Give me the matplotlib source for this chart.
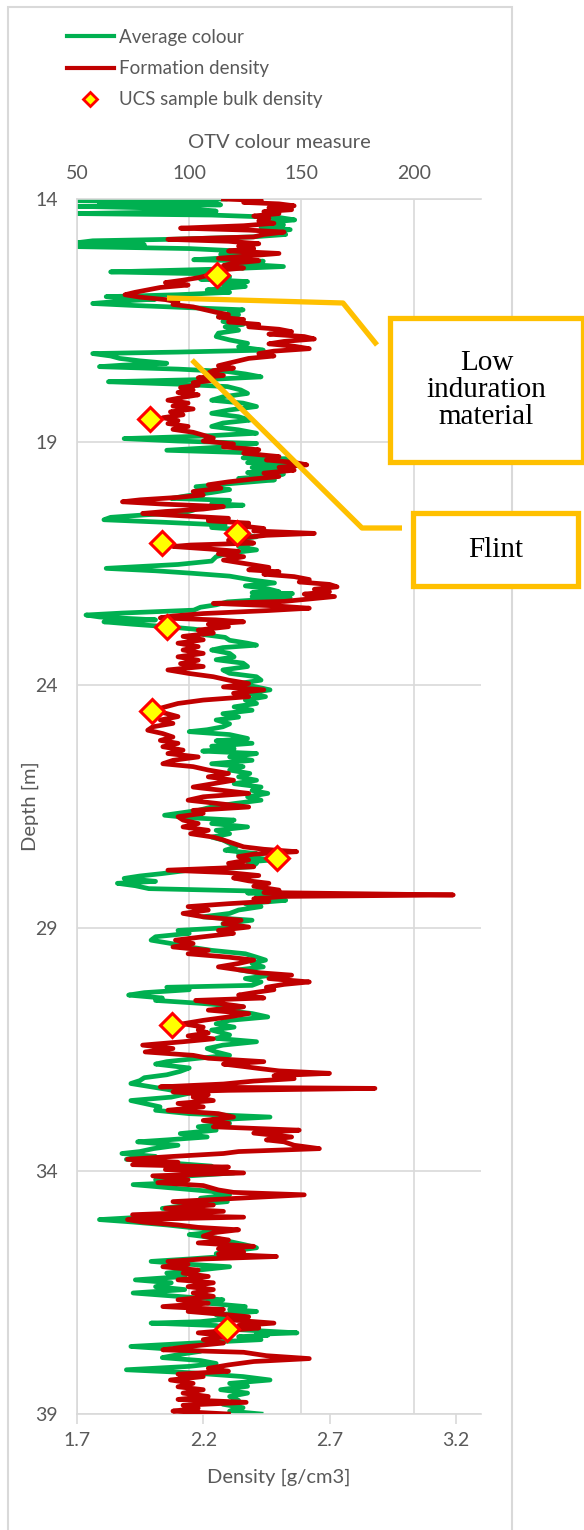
import matplotlib
matplotlib.use("Agg")
import matplotlib.pyplot as plt
from matplotlib.lines import Line2D
from matplotlib.patches import Rectangle

# OTV average colour log (depth m, colour measure)
colour_depth = [
    14.00, 14.03, 14.06, 14.09, 14.12, 14.15, 14.20, 14.25, 14.30, 14.33, 14.38, 14.43, 14.48, 14.53,
    14.58, 14.63, 14.68, 14.73, 14.78, 14.83, 14.86, 14.90, 14.94, 14.98, 15.02, 15.06, 15.10, 15.14,
    15.19, 15.25, 15.28, 15.33, 15.39, 15.44, 15.50, 15.54, 15.60, 15.65, 15.70, 15.75, 15.80, 15.87,
    15.92, 15.97, 16.01, 16.06, 16.10, 16.15, 16.19, 16.22, 16.28, 16.33, 16.38, 16.42, 16.47, 16.52,
    16.58, 16.63, 16.70, 16.76, 16.83, 16.90, 16.97, 17.04, 17.11, 17.15, 17.18, 17.23, 17.28, 17.33,
    17.38, 17.42, 17.45, 17.50, 17.55, 17.60, 17.66, 17.71, 17.76, 17.81, 17.86, 17.93, 18.00, 18.07,
    18.14, 18.20, 18.27, 18.34, 18.41, 18.48, 18.55, 18.61, 18.68, 18.75, 18.82, 18.88, 18.93, 18.98,
    19.03, 19.10, 19.17, 19.22, 19.30, 19.325, 19.35, 19.375, 19.40, 19.425, 19.45, 19.475, 19.50,
    19.525, 19.55, 19.575, 19.60, 19.63, 19.66, 19.69, 19.72, 19.75, 19.78,
    19.85, 19.92, 19.98, 20.04, 20.10, 20.16, 20.20, 20.27, 20.30, 20.35, 20.40, 20.45, 20.50, 20.55,
    20.60, 20.65, 20.71, 20.76, 20.81, 20.88, 20.95, 21.02, 21.08, 21.15, 21.22, 21.29, 21.36, 21.45,
    21.52, 21.57, 21.60, 21.65, 21.70, 21.76, 21.84, 21.90, 21.96, 22.02, 22.08, 22.10, 22.12, 22.14,
    22.16, 22.18, 22.20, 22.22,
    22.25, 22.29, 22.35, 22.40, 22.46, 22.52, 22.56, 22.60, 22.66, 22.70, 22.75, 22.80, 22.85, 22.90,
    22.96, 23.02, 23.08, 23.14, 23.18, 23.23, 23.28, 23.35, 23.42, 23.48, 23.55, 23.62, 23.69, 23.76,
    23.83, 23.90, 23.97, 24.04, 24.10, 24.17, 24.24, 24.31, 24.38, 24.45, 24.52, 24.59, 24.66, 24.72,
    24.80, 24.86, 24.92, 24.96, 25.02, 25.10, 25.15, 25.20, 25.26, 25.31, 25.36, 25.41, 25.48, 25.55,
    25.62, 25.68, 25.75, 25.82, 25.89, 25.96, 26.03, 26.10, 26.17, 26.23, 26.30, 26.37, 26.44, 26.51,
    26.58, 26.64, 26.68, 26.73, 26.78, 26.85, 26.92, 26.99, 27.06, 27.13, 27.19, 27.26, 27.33, 27.40,
    27.47, 27.50, 27.53, 27.57, 27.60, 27.64, 27.67, 27.74, 27.81, 27.88, 27.93, 27.98, 28.04, 28.08,
    28.13, 28.19, 28.25, 28.28,
    28.30, 28.33, 28.36, 28.40, 28.43, 28.50, 28.56, 28.63, 28.70, 28.77, 28.84, 28.91, 28.98, 29.05,
    29.11, 29.18,
    29.25, 29.32, 29.39, 29.46, 29.53, 29.60, 29.66, 29.73, 29.80, 29.86, 29.92, 29.97, 30.04, 30.11,
    30.18, 30.22, 30.27, 30.33, 30.38, 30.44, 30.49, 30.55, 30.62, 30.69, 30.76, 30.83, 30.90, 30.97,
    31.04, 31.10, 31.20, 31.27, 31.34, 31.41, 31.48, 31.55, 31.62, 31.68, 31.75, 31.80, 31.88, 31.95,
    32.02, 32.08, 32.14, 32.20, 32.26, 32.32, 32.40, 32.48, 32.55, 32.61, 32.68, 32.75, 32.82, 32.89,
    32.95, 33.02, 33.09, 33.16, 33.23, 33.30, 33.36, 33.40, 33.47, 33.54, 33.60, 33.64, 33.70, 33.76,
    33.83, 33.90, 33.96, 34.04, 34.10, 34.18, 34.24, 34.28, 34.34, 34.42, 34.49, 34.56, 34.63, 34.70,
    34.77, 34.83, 34.90, 34.96, 35.00, 35.05, 35.11, 35.17, 35.21, 35.27, 35.31, 35.38, 35.45, 35.52,
    35.58, 35.64, 35.70, 35.76, 35.81, 35.86, 35.92, 35.97, 36.04, 36.10, 36.17, 36.24, 36.30, 36.38,
    36.44, 36.51, 36.58, 36.65, 36.72, 36.79, 36.85, 36.89, 36.96, 37.03, 37.10, 37.13, 37.18, 37.26,
    37.33, 37.36, 37.38, 37.41, 37.43, 37.47, 37.52, 37.57, 37.61, 37.66, 37.71, 37.78, 37.84, 37.90,
    37.96, 38.02, 38.07, 38.09, 38.15, 38.23, 38.30, 38.37, 38.43, 38.50, 38.57, 38.64, 38.72, 38.80,
    38.87, 38.94, 39.00,
]
colour_value = [
    116, 50, 112, 60, 114, 50, 100, 112, 50, 110, 140, 147, 135, 142,
    132, 145, 136, 143, 128, 91, 57, 50, 80, 50, 100, 118, 126, 114,
    124, 102, 133, 120, 142, 115, 65, 108, 118, 105, 126, 115, 125, 108,
    118, 95, 63, 85, 70, 57, 75, 91, 124, 118, 122, 113, 122, 115,
    124, 116, 122, 113, 112, 118, 126, 122, 133, 95, 57, 65, 69, 78,
    90, 70, 60, 95, 117, 125, 132, 110, 64, 95, 117, 123, 126, 115,
    110, 124, 130, 118, 110, 122, 127, 115, 110, 122, 130, 105, 71, 95,
    130, 116, 90, 126, 135, 124, 145, 128, 132, 126, 144, 130, 138,
    128, 146, 132, 135, 126, 142, 128, 130, 122, 138,
    120, 103, 118, 110, 100, 92, 118, 110, 124, 104, 102, 98, 80, 65,
    62, 88, 116, 110, 125, 118, 130, 118, 128, 122, 130, 117, 112, 110,
    95, 75, 63, 85, 101, 118, 128, 138, 125, 135, 140, 128, 146, 132,
    138, 128, 145, 130,
    130, 117, 112, 105, 102, 70, 54, 60, 85, 62, 75, 90, 102, 110,
    106, 116, 118, 126, 130, 115, 110, 118, 120, 112, 124, 126, 115, 118,
    130, 132, 122, 130, 136, 126, 134, 125, 130, 120, 128, 115, 122, 112,
    118, 115, 108, 100, 118, 126, 112, 128, 110, 120, 106, 130, 118, 128,
    110, 124, 118, 127, 122, 130, 120, 132, 128, 135, 126, 132, 120, 110,
    104, 95, 89, 100, 120, 110, 126, 112, 118, 110, 115, 118, 121, 116,
    130, 122, 125, 132, 137, 126, 130, 128, 100, 88, 78, 71, 85, 68,
    76, 82, 139, 126,
    145, 132, 130, 138, 143, 125, 132, 122, 118, 106, 128, 115, 122, 95,
    100, 85,
    83, 92, 100, 110, 125, 130, 134, 128, 133, 122, 130, 137, 125, 132,
    128, 90, 100, 80, 73, 88, 85, 105, 124, 115, 128, 135, 118, 112,
    120, 110, 118, 112, 130, 115, 108, 112, 118, 104, 90, 85, 100, 96,
    90, 80, 78, 74, 82, 90, 100, 92, 74, 80, 87, 85, 100, 136,
    110, 118, 104, 112, 96, 108, 90, 77, 95, 84, 78, 70, 85, 72,
    90, 110, 95, 120, 100, 85, 95, 75, 90, 110, 118, 105, 117, 100,
    88, 105, 95, 75, 60, 75, 90, 102, 115, 108, 100, 112, 118, 125,
    130, 120, 112, 115, 100, 83, 100, 118, 104, 90, 98, 76, 92, 85,
    98, 75, 95, 115, 108, 125, 118, 130, 112, 120, 105, 83, 112, 120,
    148, 130, 135, 122, 125, 132, 110, 90, 74, 90, 105, 95, 88, 105,
    112, 100, 80, 72, 100, 124, 136, 118, 126, 114, 126, 118, 122, 115,
    124, 118, 132,
]

# Formation density log (depth m, g/cm3)
density_depth = [
    14.00, 14.03, 14.07, 14.10, 14.14, 14.18, 14.22, 14.26, 14.30, 14.35, 14.40, 14.45, 14.50, 14.55,
    14.60, 14.64, 14.68, 14.73, 14.78, 14.83, 14.87, 14.92, 14.97, 15.02, 15.07, 15.12, 15.17, 15.22,
    15.27, 15.32, 15.37, 15.42, 15.47, 15.52, 15.57, 15.62, 15.67, 15.72, 15.77, 15.82, 15.87, 15.92,
    15.97, 16.02, 16.07, 16.12, 16.17, 16.22, 16.27, 16.33, 16.38, 16.43, 16.48, 16.53, 16.58, 16.63,
    16.68, 16.73, 16.78, 16.83, 16.88, 16.93, 16.98, 17.03, 17.08, 17.13, 17.18, 17.23, 17.28, 17.33,
    17.38, 17.43, 17.48, 17.53, 17.58, 17.63, 17.68, 17.73, 17.78, 17.83, 17.88, 17.93, 17.98, 18.03,
    18.08, 18.14, 18.20, 18.26, 18.32, 18.38, 18.44, 18.50, 18.56, 18.62, 18.68, 18.74, 18.80, 18.86,
    18.92, 18.98, 19.04, 19.10, 19.16, 19.23, 19.30, 19.37, 19.42, 19.47, 19.52, 19.58, 19.64, 19.71,
    19.76, 19.82, 19.88, 19.95, 20.02, 20.09, 20.14, 20.19, 20.23, 20.28, 20.33, 20.38, 20.43, 20.47,
    20.52, 20.57, 20.62, 20.67, 20.72, 20.78, 20.83, 20.88, 20.92, 20.97, 21.02, 21.08, 21.12, 21.15,
    21.20, 21.25, 21.30, 21.36, 21.43, 21.48, 21.53, 21.58, 21.63, 21.67, 21.72, 21.77, 21.83, 21.88,
    21.93, 21.98, 22.03, 22.08, 22.13, 22.18, 22.23, 22.28, 22.32, 22.37, 22.42, 22.47, 22.53, 22.58,
    22.62, 22.66, 22.70, 22.75, 22.80, 22.87, 22.93, 23.00, 23.07, 23.14, 23.21, 23.28, 23.35, 23.42,
    23.49, 23.56, 23.62, 23.69, 23.76, 23.83, 23.90, 23.97, 24.04, 24.10, 24.17, 24.24, 24.31, 24.38,
    24.45, 24.52, 24.58, 24.65, 24.72, 24.79, 24.86, 24.93, 25.00, 25.07, 25.14, 25.20, 25.27, 25.34,
    25.41, 25.48, 25.55, 25.62, 25.68, 25.75, 25.82, 25.89, 25.96, 26.03, 26.10, 26.17, 26.23, 26.30,
    26.37, 26.44, 26.51, 26.58, 26.64, 26.71, 26.78, 26.85, 26.92, 26.99, 27.06, 27.13, 27.19, 27.26,
    27.33, 27.38, 27.43, 27.48, 27.53, 27.60, 27.67, 27.74, 27.81, 27.86, 27.92, 27.97, 28.03, 28.08,
    28.14, 28.22, 28.27, 28.32, 28.35, 28.40, 28.45, 28.50, 28.56, 28.63, 28.70, 28.77, 28.84, 28.91,
    28.98, 29.05, 29.11, 29.18, 29.25, 29.32, 29.39, 29.46, 29.53, 29.60, 29.66, 29.73, 29.80, 29.86,
    29.92, 29.97, 30.04, 30.11, 30.16, 30.22, 30.27, 30.33, 30.38, 30.44, 30.49, 30.55, 30.62, 30.69,
    30.76, 30.83, 30.90, 30.97, 31.04, 31.10, 31.16, 31.22, 31.28, 31.34, 31.41, 31.48, 31.55, 31.62,
    31.68, 31.75, 31.80, 31.85, 31.89, 31.94, 31.99, 32.04, 32.10, 32.15, 32.21, 32.27, 32.30, 32.34,
    32.37, 32.43, 32.48, 32.55, 32.61, 32.68, 32.75, 32.82, 32.89, 32.96, 33.02, 33.09, 33.16, 33.22,
    33.30, 33.36, 33.40, 33.47, 33.54, 33.60, 33.64, 33.70, 33.76, 33.82, 33.87, 33.92, 33.97, 34.04,
    34.10, 34.18, 34.24, 34.30, 34.39, 34.44, 34.49, 34.55, 34.63, 34.70, 34.77, 34.83, 34.90, 34.95,
    35.00, 35.05, 35.11, 35.16, 35.21, 35.27, 35.34, 35.42, 35.48, 35.55, 35.60, 35.66, 35.71, 35.76,
    35.81, 35.86, 35.92, 35.97, 36.04, 36.10, 36.17, 36.24, 36.30, 36.38, 36.44, 36.51, 36.58, 36.65,
    36.72, 36.79, 36.85, 36.89, 36.96, 37.00, 37.06, 37.13, 37.18, 37.23, 37.28, 37.33, 37.40, 37.47,
    37.54, 37.61, 37.68, 37.73, 37.80, 37.86, 37.92, 37.99, 38.06, 38.12, 38.18, 38.23, 38.30, 38.37,
    38.44, 38.50, 38.57, 38.64, 38.70, 38.76, 38.82, 38.88, 38.94, 39.00,
]
density_value = [
    2.28, 2.43, 2.36, 2.50, 2.56, 2.46, 2.55, 2.44, 2.50, 2.40, 2.46, 2.42, 2.48, 2.36,
    2.11, 2.38, 2.52, 2.44, 2.40, 2.06, 2.30, 2.42, 2.34, 2.40, 2.30, 2.50, 2.38, 2.26,
    2.42, 2.32, 2.28, 2.36, 2.25, 2.28, 2.22, 2.18, 2.12, 2.05, 2.14, 2.03, 1.98, 1.93,
    1.89, 1.95, 2.05, 2.10, 2.08, 2.16, 2.20, 2.25, 2.30, 2.26, 2.36, 2.30, 2.42, 2.38,
    2.50, 2.55, 2.46, 2.60, 2.64, 2.52, 2.46, 2.56, 2.62, 2.48, 2.42, 2.48, 2.38, 2.34,
    2.30, 2.26, 2.32, 2.24, 2.22, 2.28, 2.18, 2.24, 2.16, 2.18, 2.11, 2.16, 2.10, 2.18,
    2.12, 2.06, 2.14, 2.08, 2.16, 2.07, 2.12, 2.04, 2.10, 2.06, 2.14, 2.08, 2.16, 2.20,
    2.24, 2.20, 2.32, 2.28, 2.42, 2.36, 2.50, 2.45, 2.56, 2.61, 2.50, 2.56, 2.44, 2.50,
    2.40, 2.30, 2.22, 2.27, 2.16, 2.20, 2.10, 1.95, 1.88, 2.05, 2.28, 2.20, 2.05, 1.96,
    2.12, 2.30, 2.22, 2.38, 2.34, 2.44, 2.40, 2.64, 2.45, 2.36, 2.30, 2.40, 2.15, 2.08,
    2.22, 2.34, 2.26, 2.36, 2.28, 2.34, 2.40, 2.46, 2.38, 2.50, 2.44, 2.56, 2.62, 2.58,
    2.70, 2.73, 2.64, 2.70, 2.60, 2.72, 2.62, 2.52, 2.24, 2.48, 2.62, 2.45, 2.20, 2.08,
    2.03, 2.25, 2.36, 2.22, 2.30, 2.18, 2.24, 2.12, 2.20, 2.10, 2.18, 2.12, 2.20, 2.10,
    2.18, 2.11, 2.20, 2.06, 2.14, 2.24, 2.30, 2.38, 2.28, 2.44, 2.32, 2.38, 2.20, 2.10,
    2.05, 2.00, 2.05, 2.10, 2.03, 2.08, 2.00, 1.98, 2.04, 2.08, 2.03, 2.10, 2.04, 2.12,
    2.06, 2.18, 2.08, 2.04, 2.16, 2.22, 2.30, 2.22, 2.32, 2.24, 2.16, 2.28, 2.38, 2.20,
    2.14, 2.26, 2.38, 2.16, 2.20, 2.10, 2.12, 2.18, 2.12, 2.22, 2.15, 2.24, 2.28, 2.32,
    2.36, 2.44, 2.57, 2.40, 2.34, 2.38, 2.30, 2.40, 2.06, 2.30, 2.42, 2.32, 2.38, 2.46,
    2.40, 2.50, 2.44, 3.19, 2.52, 2.40, 2.46, 2.30, 2.14, 2.22, 2.12, 2.20, 2.35, 2.28,
    2.38, 2.26, 2.32, 2.20, 2.09, 2.16, 2.08, 2.22, 2.14, 2.30, 2.40, 2.34, 2.26, 2.34,
    2.42, 2.55, 2.46, 2.62, 2.52, 2.45, 2.48, 2.40, 2.34, 2.44, 2.17, 2.26, 2.36, 2.22,
    2.38, 2.30, 2.20, 2.12, 2.20, 2.18, 2.22, 2.14, 2.24, 2.12, 1.96, 2.08, 1.97, 2.16,
    2.22, 2.44, 2.28, 2.36, 2.42, 2.50, 2.70, 2.48, 2.56, 2.40, 2.28, 2.03, 2.88, 2.30,
    2.08, 2.22, 2.16, 2.24, 2.10, 2.20, 2.06, 2.26, 2.32, 2.20, 2.30, 2.24, 2.58, 2.40,
    2.55, 2.45, 2.52, 2.56, 2.66, 2.34, 2.28, 2.08, 1.90, 2.10, 1.92, 2.30, 2.05, 2.36,
    2.00, 2.14, 2.02, 2.20, 2.26, 2.32, 2.60, 2.38, 2.08, 2.24, 2.05, 2.28, 1.92, 2.36,
    1.90, 1.96, 2.10, 2.18, 2.34, 2.24, 2.20, 2.30, 2.18, 2.40, 2.26, 2.36, 2.26, 2.49,
    2.20, 2.06, 2.14, 2.04, 2.18, 2.12, 2.22, 2.10, 2.24, 2.14, 2.24, 2.16, 2.24, 2.10,
    2.22, 2.04, 2.28, 2.14, 2.30, 2.38, 2.30, 2.48, 2.34, 2.42, 2.30, 2.18, 2.30, 2.20,
    2.28, 2.14, 2.04, 2.36, 2.45, 2.62, 2.40, 2.30, 2.22, 2.30, 2.10, 2.20, 2.07, 2.16,
    2.10, 2.20, 2.12, 2.22, 2.10, 2.37, 2.12, 2.18, 2.08, 2.30,
]

# UCS sample bulk densities
ucs_depth = [15.56, 18.53, 20.87, 21.08, 22.81, 24.53, 27.56, 31.00, 37.25]
ucs_density = [2.256, 1.990, 2.335, 2.037, 2.057, 1.998, 2.494, 2.077, 2.295]

depth_ticks = [14, 19, 24, 29, 34, 39]
colour_ticks = [50, 100, 150, 200]
density_ticks = [1.7, 2.2, 2.7, 3.2]

GREEN = "#00B050"
RED = "#C00000"
GOLD = "#FFC000"
GREY = "#595959"
GRID = "#D9D9D9"
SANS = ["Lato", "DejaVu Sans"]

W, H = 584, 1530
fig = plt.figure(figsize=(W / 100, H / 100), dpi=100)


def px(x, y):
    # pixel position (from top-left) to figure fraction
    return x / W, 1 - y / H


# outer chart frame
fig.patches.append(Rectangle(px(8, H + 5), 504 / W, (H - 2) / H, transform=fig.transFigure,
                             fill=False, edgecolor=GRID, linewidth=1.5))

l, b = px(77, 1414)
r, t = px(481, 199)
ax = fig.add_axes([l, b, r - l, t - b])
ax.patch.set_alpha(0)

# colour measure on the top axis
ax.plot(colour_value, colour_depth, color=GREEN, lw=3.4, solid_joinstyle="round", zorder=2)
ax.set_xlim(50, 230)
ax.set_ylim(39, 14)
ax.set_yticks(depth_ticks)
ax.grid(True, color=GRID, lw=1.2, zorder=0)

# density on the bottom axis (twiny moves the host ticks to the bottom, so set it up first)
axd = ax.twiny()
ax.xaxis.tick_top()
ax.xaxis.set_label_position("top")
ax.set_xticks(colour_ticks)
ax.tick_params(axis="x", which="both", length=0, pad=12, labelsize=14, labelcolor=GREY)
ax.tick_params(axis="y", length=0, pad=14, labelsize=14, labelcolor=GREY)
for s in ["right", "bottom"]:
    ax.spines[s].set_visible(False)
for s in ["top", "left"]:
    ax.spines[s].set_color(GRID)
    ax.spines[s].set_linewidth(1.2)

axd.plot(density_value, density_depth, color=RED, lw=3.4, solid_joinstyle="round", zorder=3)
axd.plot(ucs_density, ucs_depth, linestyle="none", marker="D", ms=12, mfc="#FFFF00",
         mec="#FF0000", mew=2.2, zorder=4)
axd.set_xlim(1.7, 3.3)
axd.xaxis.tick_bottom()
axd.xaxis.set_label_position("bottom")
axd.set_xticks(density_ticks)
axd.set_xticklabels([f"{v:.1f}" for v in density_ticks])
axd.tick_params(axis="x", length=7, width=1.2, color=GRID, pad=6, labelsize=14, labelcolor=GREY)
for s in ["top", "right", "left"]:
    axd.spines[s].set_visible(False)
axd.spines["bottom"].set_color(GRID)
axd.spines["bottom"].set_linewidth(1.2)

for lab in ax.get_xticklabels() + ax.get_yticklabels() + axd.get_xticklabels():
    lab.set_family(SANS)

fig.text(*px(279, 142), "OTV colour measure", ha="center", va="center", fontsize=14.5,
         color=GREY, family=SANS)
fig.text(*px(279, 1477), "Density [g/cm3]", ha="center", va="center", fontsize=14.5,
         color=GREY, family=SANS)
fig.text(*px(30, 806), "Depth [m]", ha="center", va="center", rotation=90, fontsize=14.5,
         color=GREY, family=SANS)

handles = [
    Line2D([], [], color=GREEN, lw=3),
    Line2D([], [], color=RED, lw=3),
    Line2D([], [], linestyle="none", marker="D", ms=7, mfc="#FFFF00", mec="#FF0000", mew=2),
]
fig.legend(handles, ["Average colour", "Formation density", "UCS sample bulk density"],
           loc="upper left", bbox_to_anchor=px(67, 29), frameon=False,
           handlelength=2.5, handletextpad=0.25, labelspacing=0.75, borderpad=0,
           borderaxespad=0, labelcolor=GREY, prop={"family": SANS, "size": 13.5})

# callout leader lines
for path in ([(167, 298), (343, 303), (377, 345)], [(192, 360), (362, 528), (402, 528)]):
    xs = [px(x, y)[0] for x, y in path]
    ys = [px(x, y)[1] for x, y in path]
    fig.add_artist(Line2D(xs, ys, transform=fig.transFigure, color=GOLD, lw=3.8,
                          solid_capstyle="butt", zorder=5))

# callout boxes
for (x0, y0, x1, y1), text in [((390, 318, 583, 462), "Low\ninduration\nmaterial"),
                               ((413, 513, 578, 586), "Flint")]:
    fx, fy = px(x0, y1)
    fig.add_artist(Rectangle((fx, fy), (x1 - x0) / W, (y1 - y0) / H, transform=fig.transFigure,
                             facecolor="white", edgecolor=GOLD, linewidth=3.8, zorder=6))
    fig.text(*px((x0 + x1) / 2, (y0 + y1) / 2), text, ha="center", va="center", fontsize=21,
             family="Liberation Serif", color="black", linespacing=1.05, zorder=7)

fig.savefig("out.png", dpi=100)
